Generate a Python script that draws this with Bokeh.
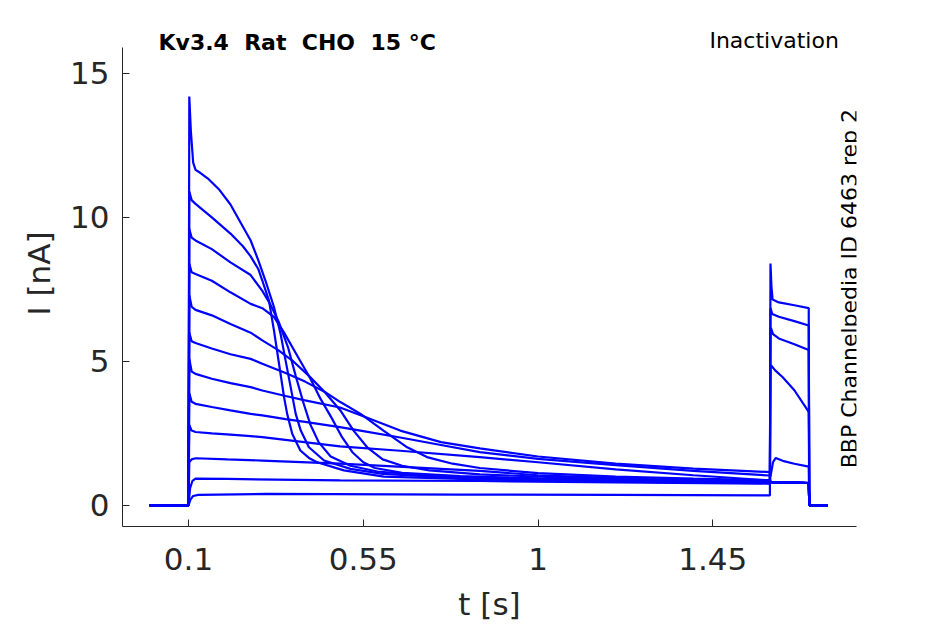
import math
from bokeh.plotting import figure
from bokeh.models import FixedTicker, Label, Range1d
from bokeh.embed import file_html
from bokeh.resources import INLINE

# ---------------- data ----------------
x_ticks = [0.1, 0.55, 1.0, 1.45]
x_tick_labels = ["0.1", "0.55", "1", "1.45"]
y_ticks = [0, 5, 10, 15]
y_tick_labels = ["0", "5", "10", "15"]
x_limits = (-0.07, 1.82)
y_limits = (-0.73, 15.9)

# baseline before the prepulse and after the test pulse (t in s, I in nA)
base_t = [0.0, 0.0995]
base_i = [0.0, 0.0]
tail_t = [1.6985, 1.746]
tail_i = [0.0, 0.0]

# prepulse segments (one per sweep)
pre_t1 = [0.1, 0.102, 0.106, 0.112, 0.118, 0.13, 0.15, 0.18, 0.208, 0.235, 0.26, 0.28, 0.298, 0.32, 0.337, 0.35, 0.363, 0.376, 0.389, 0.41, 0.449, 0.517, 0.6, 0.8, 1.0, 1.2, 1.4, 1.597]
pre_i1 = [0.0, 14.2, 13.0, 11.9, 11.65, 11.55, 11.35, 10.95, 10.45, 9.8, 9.2, 8.5, 7.81, 6.89, 5.96, 5.03, 4.11, 3.18, 2.6, 2.02, 1.56, 1.27, 1.1, 0.95, 0.88, 0.84, 0.81, 0.79]
pre_t2 = [0.1, 0.102, 0.108, 0.118, 0.16, 0.208, 0.24, 0.26, 0.28, 0.29, 0.307, 0.32, 0.333, 0.346, 0.354, 0.367, 0.388, 0.41, 0.431, 0.5, 0.603, 0.8, 1.0, 1.3, 1.597]
pre_i2 = [0.0, 10.9, 10.6, 10.47, 10.0, 9.44, 9.0, 8.65, 8.2, 7.81, 7.12, 6.08, 4.92, 3.76, 3.18, 2.49, 1.91, 1.65, 1.5, 1.22, 1.0, 0.92, 0.87, 0.81, 0.77]
pre_t3 = [0.1, 0.102, 0.108, 0.118, 0.16, 0.208, 0.26, 0.29, 0.31, 0.333, 0.356, 0.376, 0.395, 0.414, 0.435, 0.466, 0.517, 0.586, 0.75, 1.0, 1.3, 1.597]
pre_i3 = [0.0, 9.6, 9.3, 9.2, 8.9, 8.44, 8.0, 7.45, 7.0, 6.35, 5.5, 4.5, 3.6, 2.8, 2.2, 1.7, 1.38, 1.18, 1.0, 0.9, 0.84, 0.8]
pre_t4 = [0.1, 0.102, 0.108, 0.118, 0.16, 0.208, 0.26, 0.29, 0.32, 0.346, 0.38, 0.414, 0.44, 0.468, 0.494, 0.522, 0.55, 0.58, 0.65, 0.8, 1.0, 1.3, 1.597]
pre_i4 = [0.0, 8.4, 8.1, 8.04, 7.8, 7.4, 7.0, 6.85, 6.55, 6.0, 5.2, 4.4, 3.7, 3.05, 2.4, 1.85, 1.5, 1.3, 1.13, 1.02, 0.94, 0.87, 0.83]
pre_t5 = [0.1, 0.102, 0.108, 0.118, 0.16, 0.208, 0.26, 0.29, 0.33, 0.37, 0.41, 0.45, 0.491, 0.525, 0.56, 0.6, 0.65, 0.72, 0.85, 1.0, 1.2, 1.4, 1.597]
pre_i5 = [0.0, 7.3, 6.9, 6.79, 6.6, 6.3, 6.0, 5.73, 5.4, 5.0, 4.5, 3.95, 3.3, 2.6, 2.02, 1.6, 1.38, 1.22, 1.08, 1.0, 0.93, 0.88, 0.85]
pre_t6 = [0.1, 0.102, 0.108, 0.118, 0.16, 0.208, 0.26, 0.29, 0.35, 0.4, 0.45, 0.491, 0.543, 0.602, 0.663, 0.714, 0.78, 0.85, 1.0, 1.2, 1.4, 1.597]
pre_i6 = [0.0, 6.0, 5.7, 5.64, 5.45, 5.25, 5.09, 4.92, 4.6, 4.3, 3.95, 3.59, 3.18, 2.6, 2.02, 1.68, 1.45, 1.3, 1.12, 1.0, 0.93, 0.88]
pre_t7 = [0.1, 0.102, 0.108, 0.118, 0.16, 0.208, 0.26, 0.29, 0.35, 0.4, 0.49, 0.55, 0.645, 0.75, 0.85, 1.0, 1.2, 1.4, 1.597]
pre_i7 = [0.0, 5.1, 4.65, 4.57, 4.4, 4.25, 4.11, 3.99, 3.8, 3.65, 3.4, 3.1, 2.6, 2.2, 1.98, 1.7, 1.45, 1.28, 1.16]
pre_t8 = [0.1, 0.102, 0.108, 0.118, 0.16, 0.208, 0.26, 0.29, 0.35, 0.4, 0.49, 0.55, 0.645, 0.75, 0.85, 1.0, 1.2, 1.4, 1.597]
pre_i8 = [0.0, 3.9, 3.6, 3.53, 3.42, 3.3, 3.18, 3.13, 3.0, 2.9, 2.72, 2.58, 2.36, 2.1, 1.85, 1.62, 1.4, 1.2, 1.04]
pre_t9 = [0.1, 0.102, 0.108, 0.118, 0.16, 0.208, 0.26, 0.29, 0.49, 0.645, 0.85, 1.0, 1.2, 1.4, 1.597]
pre_i9 = [0.0, 2.8, 2.6, 2.55, 2.5, 2.46, 2.41, 2.37, 2.05, 1.9, 1.68, 1.5, 1.25, 1.05, 0.87]
pre_t10 = [0.1, 0.102, 0.108, 0.118, 0.2, 0.29, 0.49, 0.85, 1.0, 1.2, 1.4, 1.597]
pre_i10 = [0.0, 1.5, 1.6, 1.64, 1.6, 1.56, 1.45, 1.2, 1.05, 0.95, 0.85, 0.78]
pre_t11 = [0.1, 0.104, 0.11, 0.118, 0.2, 0.49, 0.85, 1.2, 1.597]
pre_i11 = [0.0, 0.6, 0.85, 0.93, 0.92, 0.87, 0.85, 0.8, 0.76]
pre_t12 = [0.1, 0.105, 0.112, 0.125, 0.3, 0.8, 1.2, 1.597]
pre_i12 = [0.0, 0.2, 0.33, 0.37, 0.4, 0.38, 0.37, 0.35]

# test pulse segments
test_t_inact = [1.5985, 1.605, 1.65, 1.697]
test_i_inact = [0.82, 0.8, 0.8, 0.78]
test_t8 = [1.5985, 1.605, 1.612, 1.63, 1.66, 1.697]
test_i8 = [1.0, 1.5, 1.65, 1.55, 1.45, 1.35]
test_t9 = [1.5985, 1.601, 1.61, 1.63, 1.66, 1.697]
test_i9 = [4.85, 4.85, 4.7, 4.45, 4.0, 3.25]
test_t10 = [1.5985, 1.6, 1.605, 1.62, 1.66, 1.697]
test_i10 = [6.15, 6.15, 5.95, 5.8, 5.6, 5.4]
test_t11 = [1.5985, 1.603, 1.62, 1.66, 1.697]
test_i11 = [6.85, 6.65, 6.55, 6.4, 6.25]
test_t12 = [1.5985, 1.601, 1.604, 1.62, 1.66, 1.697]
test_i12 = [8.4, 7.6, 7.15, 7.05, 6.95, 6.85]

pre_t = [pre_t1, pre_t2, pre_t3, pre_t4, pre_t5, pre_t6, pre_t7, pre_t8, pre_t9, pre_t10, pre_t11, pre_t12]
pre_i = [pre_i1, pre_i2, pre_i3, pre_i4, pre_i5, pre_i6, pre_i7, pre_i8, pre_i9, pre_i10, pre_i11, pre_i12]
test_t = [test_t_inact] * 7 + [test_t8, test_t9, test_t10, test_t11, test_t12]
test_i = [test_i_inact] * 7 + [test_i8, test_i9, test_i10, test_i11, test_i12]

# double gaps kept visible in SVG with a no-break space
title_text = "Kv3.4\u00a0 Rat\u00a0 CHO\u00a0 15 °C"
protocol_text = "Inactivation"
source_text = "BBP Channelpedia ID 6463 rep 2"

# ---------------- figure ----------------
FONT = "DejaVu Sans"
AX = "#262626"
PX_PER_NA = (526 - 47) / (y_limits[1] - y_limits[0])
TOP_PAD = 27  # extra frame room above the axis for the header texts
y_top = y_limits[1] + TOP_PAD / PX_PER_NA

p = figure(width=945, height=624, output_backend="svg", toolbar_location=None,
           x_range=Range1d(*x_limits), y_range=Range1d(y_limits[0], y_top),
           min_border_left=122, min_border_right=89, min_border_top=47 - TOP_PAD,
           min_border_bottom=98,
           background_fill_color="white", border_fill_color="white")
p.outline_line_color = None
p.grid.visible = False

for ax in (p.xaxis[0], p.yaxis[0]):
    ax.axis_line_color = AX
    ax.axis_line_width = 1
    ax.major_tick_line_color = AX
    ax.major_tick_in = 7
    ax.major_tick_out = 0
    ax.minor_tick_line_color = None
    ax.major_label_text_font = FONT
    ax.major_label_text_font_size = "31px"
    ax.major_label_text_color = AX
    ax.axis_label_text_font = FONT
    ax.axis_label_text_font_size = "31px"
    ax.axis_label_text_font_style = "normal"
    ax.axis_label_text_color = AX

p.xaxis.ticker = FixedTicker(ticks=x_ticks)
p.xaxis.major_label_overrides = {t: s for t, s in zip(x_ticks, x_tick_labels)}
p.xaxis.major_label_standoff = 21
p.xaxis.axis_label = "t [s]"
p.xaxis.axis_label_standoff = 13

p.yaxis.ticker = FixedTicker(ticks=y_ticks)
p.yaxis.major_label_overrides = {t: s for t, s in zip(y_ticks, y_tick_labels)}
p.yaxis.major_label_standoff = 13
p.yaxis.axis_label = "I [nA]"
p.yaxis.axis_label_standoff = 10
p.yaxis.bounds = y_limits

for k in range(len(pre_t)):
    ts = base_t + pre_t[k] + test_t[k] + tail_t
    vs = base_i + pre_i[k] + test_i[k] + tail_i
    p.line(ts, vs, line_color="#0000ff", line_width=2.2)

p.add_layout(Label(x=0.0227, y=16.06, text=title_text,
                   text_align="left", text_baseline="middle", text_font_style="bold",
                   text_font=FONT, text_font_size="22px", text_color="black"))
p.add_layout(Label(x=1.7745, y=16.15, text=protocol_text,
                   text_align="right", text_baseline="middle",
                   text_font=FONT, text_font_size="22px", text_color="black"))
p.add_layout(Label(x=1.803, y=7.53, text=source_text, angle=math.pi / 2,
                   text_align="center", text_baseline="middle",
                   text_font=FONT, text_font_size="22px", text_color="black"))

open("out.html", "w").write(file_html(p, INLINE))
